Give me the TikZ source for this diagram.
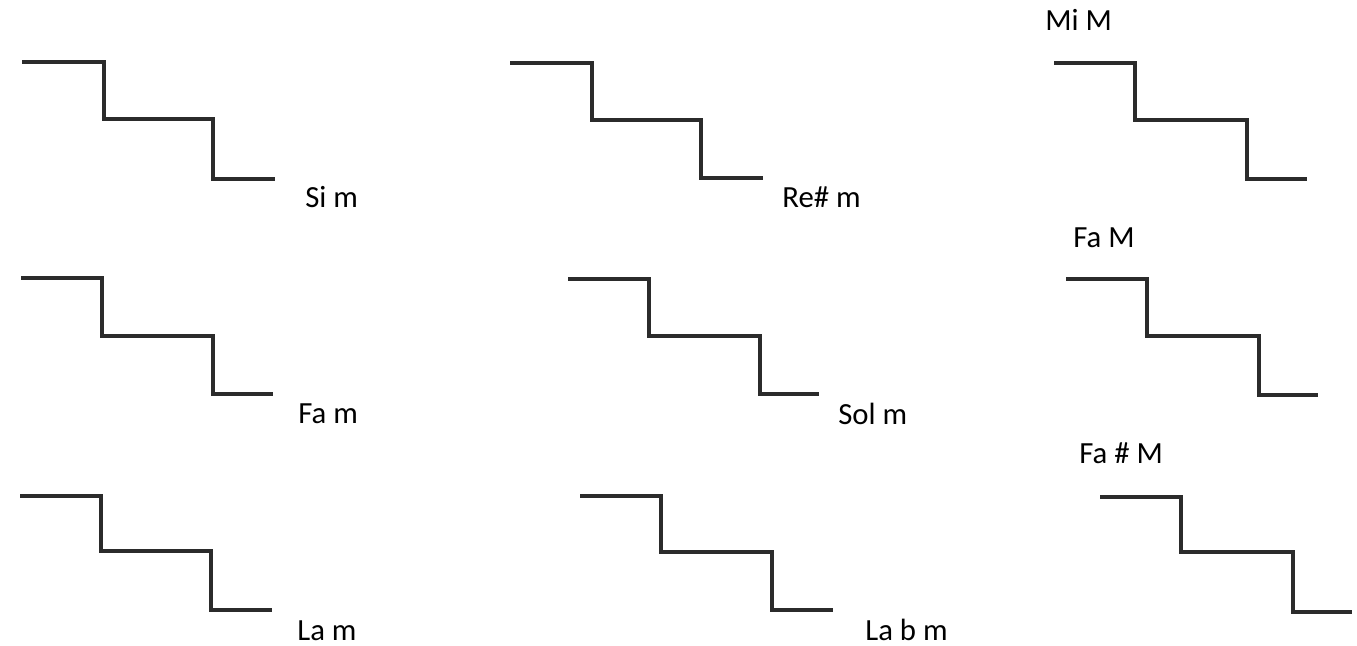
\documentclass[tikz,border=0pt]{standalone}
\usepackage{fontspec}
\setmainfont{Carlito}
\usepackage{tikz}

\definecolor{stairgray}{HTML}{2B2B2B}
\tikzset{
  stair/.style={draw=stairgray, line width=2pt, line join=miter},
  chord/.style={anchor=base west, inner sep=0pt, font=\fontsize{17.5}{20}\selectfont}
}

\begin{document}
\begin{tikzpicture}[x=0.02cm, y=-0.02cm]
   \useasboundingbox (0,0) rectangle (1357,646);

   % first row
   \draw [stair] (22,62) -| (104,119) -| (213,179) -- (275,179);
   \draw [stair] (510,63) -| (592,120) -| (701,178) -- (763,178);
   \draw [stair] (1054,63) -| (1135,120) -| (1247,179) -- (1307,179);

   % second row
   \draw [stair] (21,278) -| (102,336) -| (213,394) -- (273,394);
   \draw [stair] (568,279) -| (649,336) -| (760,394) -- (819,394);
   \draw [stair] (1066,279) -| (1147,336) -| (1259,395) -- (1318,395);

   % third row
   \draw [stair] (20,496) -| (101,551) -| (211,610) -- (272,610);
   \draw [stair] (580,496) -| (661,552) -| (772,610) -- (833,610);
   \draw [stair] (1100,497) -| (1181,552) -| (1293,612) -- (1352,612);

   \node[chord] (sim)  at (305,207)  {Si m};
   \node[chord] (resm) at (782,207)  {Re\# m};
   \node[chord] (miM)  at (1045,30)  {Mi M};
   \node[chord] (fam)  at (298,423)  {Fa m};
   \node[chord] (solm) at (838,424)  {Sol m};
   \node[chord] (faM)  at (1073,247) {Fa M};
   \node[chord] (lam)  at (297,640)  {La m};
   \node[chord] (labm) at (865,640)  {La b m};
   \node[chord] (fasM) at (1079,463) {Fa \# M};
 \end{tikzpicture}
\end{document}
